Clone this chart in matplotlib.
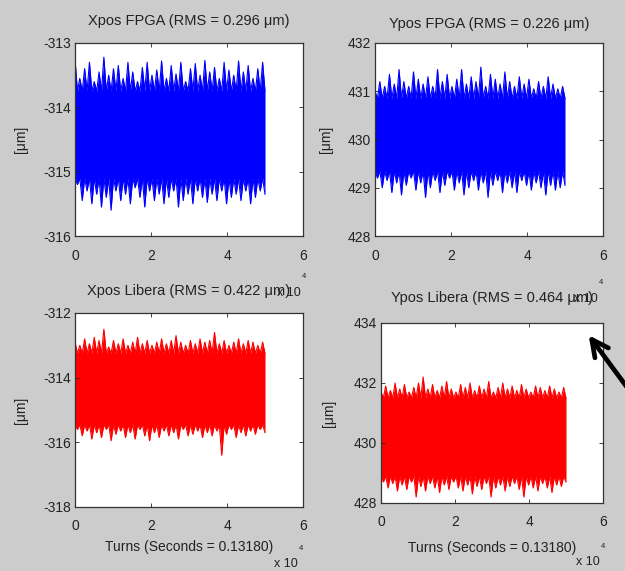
import numpy as np
import matplotlib
matplotlib.use('agg')
import matplotlib.pyplot as plt
from matplotlib.patches import FancyArrowPatch

plt.rcParams['font.family'] = ['Liberation Sans', 'DejaVu Sans']
plt.rcParams['axes.unicode_minus'] = False

turns_max = 5.0
xtick_vals = [0, 2, 4, 6]

titles = ['Xpos FPGA (RMS = 0.296 \u03bcm)', 'Ypos FPGA (RMS = 0.226 \u03bcm)',
          'Xpos Libera (RMS = 0.422 \u03bcm)', 'Ypos Libera (RMS = 0.464 \u03bcm)']
xlabel_text = 'Turns (Seconds = 0.13180)'
ylabel_text = '[\u03bcm]'

# Xpos FPGA: spike tops, spike bottoms, solid core [top, bottom]
xf_upper = [-313.25, -313.55, -313.4, -313.3, -313.6, -313.45, -313.22, -313.5, -313.4, -313.35,
            -313.55, -313.3, -313.45, -313.6, -313.38, -313.3, -313.5, -313.42, -313.28, -313.55,
            -313.35, -313.48, -313.3, -313.6, -313.4, -313.32, -313.5, -313.27, -313.45, -313.38,
            -313.55, -313.3, -313.42, -313.5, -313.28, -313.45, -313.35, -313.55, -313.4, -313.3]
xf_lower = [-315.2, -315.45, -315.3, -315.5, -315.35, -315.55, -315.4, -315.6, -315.3, -315.45,
            -315.35, -315.5, -315.25, -315.4, -315.55, -315.3, -315.45, -315.35, -315.5, -315.4,
            -315.3, -315.55, -315.45, -315.35, -315.5, -315.3, -315.4, -315.48, -315.35, -315.45,
            -315.3, -315.5, -315.4, -315.35, -315.45, -315.3, -315.5, -315.4, -315.3, -315.35]
xf_core = [-313.75, -315.1]
xf_ylim = [-316, -313]
xf_yticks = [-316, -315, -314, -313]

# Ypos FPGA
yf_upper = [431.0, 431.2, 431.1, 431.35, 431.15, 431.45, 431.2, 431.1, 431.4, 431.25,
            431.15, 431.3, 431.1, 431.45, 431.2, 431.35, 431.1, 431.25, 431.45, 431.15,
            431.3, 431.2, 431.5, 431.1, 431.35, 431.25, 431.15, 431.4, 431.2, 431.1,
            431.3, 431.15, 431.25, 431.05, 431.2, 431.1, 431.3, 431.15, 431.05, 431.1]
yf_lower = [429.2, 429.0, 429.15, 428.9, 429.1, 428.85, 429.05, 429.2, 428.95, 429.1,
            428.8, 429.0, 429.15, 428.9, 429.05, 429.2, 428.95, 429.1, 428.85, 429.0,
            429.15, 428.95, 429.1, 428.8, 429.05, 429.15, 428.9, 429.1, 429.0, 428.9,
            429.15, 429.05, 428.95, 429.1, 429.0, 428.85, 429.05, 428.95, 429.0, 429.05]
yf_core = [430.85, 429.35]
yf_ylim = [428, 432]
yf_yticks = [428, 429, 430, 431, 432]

# Xpos Libera
xl_upper = [-312.9, -313.0, -312.8, -312.95, -312.75, -312.85, -312.5, -313.05, -312.85, -312.95,
            -312.8, -313.0, -312.9, -312.75, -312.95, -312.85, -313.0, -312.9, -312.8, -312.95,
            -312.85, -312.7, -312.9, -313.0, -312.85, -312.95, -312.8, -312.9, -312.85, -312.6,
            -312.95, -312.85, -313.0, -312.9, -312.8, -312.95, -312.85, -312.9, -313.0, -312.9]
xl_lower = [-315.6, -315.8, -315.65, -315.9, -315.7, -315.85, -315.6, -315.95, -315.75, -315.65,
            -315.85, -315.7, -315.9, -315.6, -315.8, -315.95, -315.7, -315.85, -315.65, -315.8,
            -315.7, -315.9, -315.6, -315.8, -315.75, -315.65, -315.85, -315.7, -315.8, -315.65,
            -316.4, -315.75, -315.6, -315.85, -315.7, -315.8, -315.65, -315.75, -315.6, -315.7]
xl_core = [-313.25, -315.45]
xl_ylim = [-318, -312]
xl_yticks = [-318, -316, -314, -312]

# Ypos Libera
yl_upper = [431.7, 431.9, 431.75, 432.0, 431.8, 431.95, 431.7, 431.85, 432.0, 432.2,
            431.8, 431.95, 431.75, 431.9, 432.05, 431.8, 431.7, 431.95, 431.85, 432.0,
            431.75, 431.9, 431.8, 432.05, 431.7, 431.85, 432.0, 431.8, 431.9, 431.75,
            431.95, 431.8, 431.7, 431.9, 431.85, 431.75, 431.9, 431.8, 431.7, 431.85]
yl_lower = [428.7, 428.5, 428.65, 428.4, 428.6, 428.45, 428.7, 428.2, 428.55, 428.4,
            428.65, 428.5, 428.35, 428.6, 428.45, 428.7, 428.5, 428.4, 428.6, 428.3,
            428.55, 428.45, 428.65, 428.2, 428.5, 428.6, 428.4, 428.55, 428.65, 428.45,
            428.2, 428.6, 428.5, 428.4, 428.65, 428.5, 428.35, 428.6, 428.55, 428.7]
yl_core = [431.5, 428.9]
yl_ylim = [428, 434]
yl_yticks = [428, 430, 432, 434]

panels = [
    (xf_upper, xf_lower, xf_core, xf_ylim, xf_yticks, 'blue'),
    (yf_upper, yf_lower, yf_core, yf_ylim, yf_yticks, 'blue'),
    (xl_upper, xl_lower, xl_core, xl_ylim, xl_yticks, 'red'),
    (yl_upper, yl_lower, yl_core, yl_ylim, yl_yticks, 'red'),
]

W, H = 625, 571
# axes boxes in pixels: left, top, right, bottom
boxes = [(75, 43, 303, 236), (375, 43, 603, 236), (75, 313, 303, 507), (381, 323, 603, 503)]
title_pads = [13, 11, 13, 15]
ylabel_x = [28, 333, 28, 336]
xlabel_pads = [0, 0, 5, 8]

fig = plt.figure(figsize=(W / 100, H / 100), dpi=100)
fig.patch.set_facecolor('#cccccc')

txt_col = '#222222'
for k, (upper, lower, core, ylim, yticks, col) in enumerate(panels):
    l, t, r, b = boxes[k]
    ax = fig.add_axes([l / W, 1 - b / H, (r - l) / W, (b - t) / H])
    n = len(upper)
    x = np.linspace(0, turns_max, 2 * n)
    top_edge = np.empty(2 * n)
    top_edge[0::2] = upper
    top_edge[1::2] = core[0]
    bot_edge = np.empty(2 * n)
    bot_edge[0::2] = core[1]
    bot_edge[1::2] = lower
    ax.fill_between(x, bot_edge, top_edge, color=col, lw=0)
    ax.plot(x, top_edge, color=col, lw=0.8)
    ax.plot(x, bot_edge, color=col, lw=0.8)
    ax.set_xlim(0, 6)
    ax.set_ylim(ylim)
    ax.set_xticks(xtick_vals)
    ax.set_yticks(yticks)
    ax.tick_params(direction='in', top=True, right=True, length=3, width=0.6,
                   labelsize=10, colors=txt_col)
    ax.tick_params(axis='x', pad=9)
    ax.tick_params(axis='y', pad=3)
    for s in ax.spines.values():
        s.set_linewidth(0.9)
        s.set_color('#333333')
    ax.set_title(titles[k], fontsize=10.5, color=txt_col, pad=title_pads[k])
    ax.set_ylabel(ylabel_text, fontsize=10, color=txt_col)
    ax.yaxis.set_label_coords((ylabel_x[k] - l) / (r - l), 0.5)
    if k >= 2:
        ax.set_xlabel(xlabel_text, fontsize=10, color=txt_col, labelpad=xlabel_pads[k])

# x 10^4 multiplier labels
for (px, py) in [(301, 293), (598, 299), (298, 564), (600, 562)]:
    fig.text(px / W, 1 - py / H, 'x 10', fontsize=9, color=txt_col, ha='right', va='center')
    fig.text((px + 3) / W, 1 - (py - 16) / H, '4', fontsize=5.5, color=txt_col, ha='center', va='center')

arrow = FancyArrowPatch((632 / W, 1 - 394 / H), (587 / W, 1 - 333 / H),
                        transform=fig.transFigure, arrowstyle='->', mutation_scale=30,
                        lw=3.4, color='black')
fig.add_artist(arrow)

fig.savefig('out.png', dpi=100, facecolor=fig.get_facecolor())
